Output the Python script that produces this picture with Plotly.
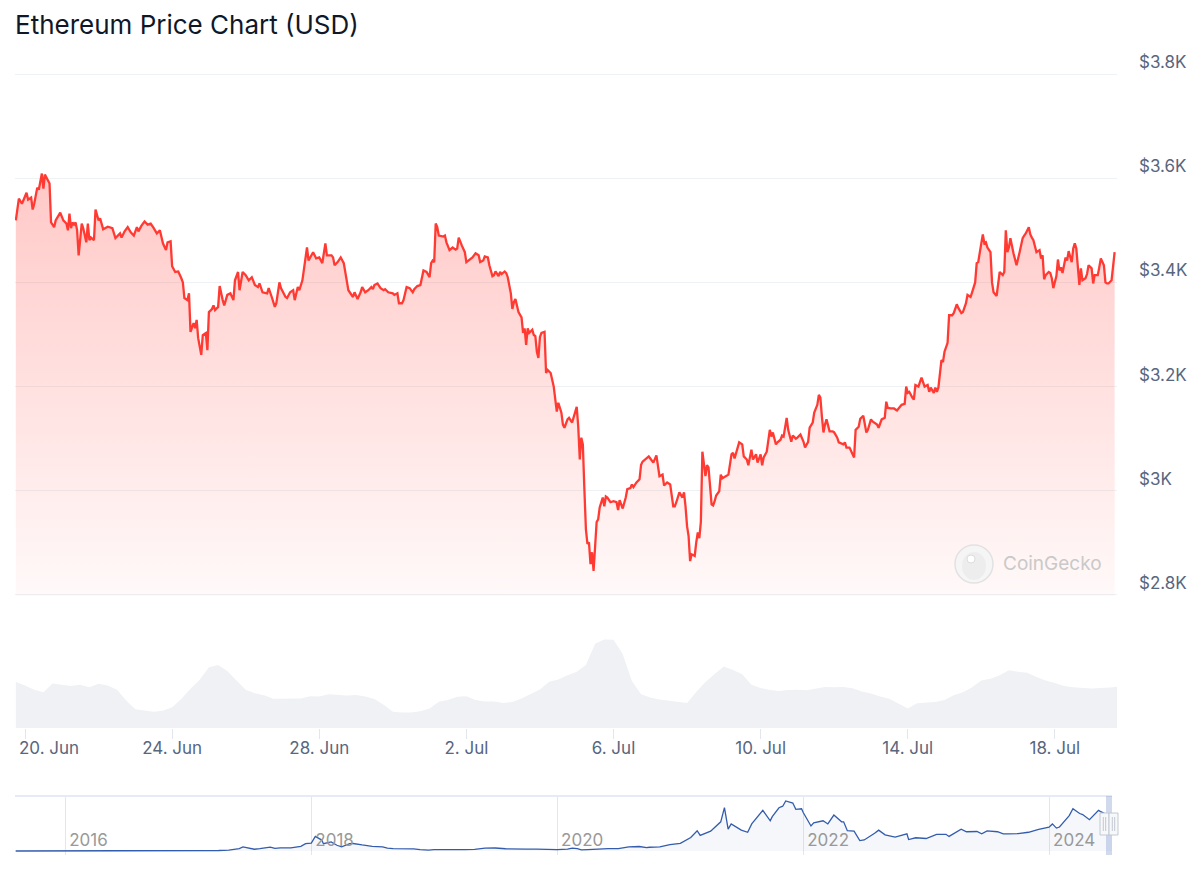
import pandas as pd
import plotly.graph_objects as go

# ---------------- data ----------------
title_text = "Ethereum Price Chart (USD)"

price_base = "2024-06-20 00:00"
# hours after price_base
price_hours = [
    -6, -4, -2, 1, 2, 4, 5, 6, 8, 9, 11, 12, 13, 16, 17, 19, 20, 23, 25, 27, 28, 29, 30, 31, 32, 33, 34, 35,
    37, 38, 40, 41, 42, 43, 45, 46, 48, 49, 51, 54, 57, 59, 62, 63, 65, 67, 69, 71, 73, 74, 76, 78, 80, 82,
    84, 86, 88, 90, 92, 93, 95, 96, 98, 100, 102, 103, 104, 106, 107, 108, 110, 111, 112, 113, 115, 116, 118,
    119, 120, 122, 123, 124, 126, 127, 129, 130, 132, 134, 136, 137, 139, 140, 142, 144, 146, 148, 150, 152,
    153, 155, 158, 159, 161, 163, 164, 166, 167, 170, 171, 173, 175, 176, 178, 179,
    181, 184, 185, 188, 190, 192, 194, 196, 197, 200, 201, 202, 204, 206, 208, 210, 211, 214, 215, 217, 219,
    220, 222, 224, 226, 227, 228, 230, 232, 234, 235, 237, 240, 241, 243, 244, 246, 247, 249, 251, 253, 254,
    256, 258, 259, 260, 262, 264, 265, 266, 267, 268, 269, 270, 273, 274, 275, 277, 279, 281, 282, 283, 285,
    287, 288, 290, 292, 294, 296, 297, 299, 300, 302, 303, 305, 306, 307, 309, 310, 311, 313, 314, 315, 317,
    318, 319, 320, 322, 324, 325, 326, 327, 328, 329, 331, 332, 333, 334, 335, 336, 337, 339, 340, 341, 343, 345,
    346, 347, 348, 350, 351, 352, 354, 355, 357, 358, 360, 361, 362, 363, 364, 365, 366, 367, 368, 369, 370,
    371, 372, 373, 374, 375, 377, 378, 379, 380, 382, 384, 386, 387, 388, 390, 392, 393, 395, 396, 397, 399,
    401, 402, 403, 405, 407, 408, 410, 412, 413, 414, 416, 417, 419, 421, 423, 424, 425, 427, 429, 430, 431,
    432, 433, 434, 435, 437, 438, 439, 440, 441, 442, 443, 444, 445, 446, 448, 449, 450, 451, 453, 454, 455,
    457, 459, 461, 462, 463, 465, 466, 468, 469, 471, 472, 474, 475, 477, 478, 480, 481, 482, 484, 486, 487,
    488, 490, 491, 493, 494, 495, 497, 498, 500, 501, 503, 504, 506, 508, 509, 511, 512, 514, 515, 517, 518,
    519, 520, 521, 522, 523, 525, 527, 528, 530, 531,
    534, 535, 536, 538, 540, 541, 542, 544, 545, 547, 549, 550, 552, 553, 556, 557, 559, 561, 562, 563, 565,
    567, 569, 570, 572, 574, 575, 576, 577, 579, 580, 581, 583, 584, 585, 587, 589, 590, 591, 593, 594, 595,
    596, 598, 599, 600, 602, 603, 605, 606, 608, 609, 611, 612, 614, 615, 617, 618, 619, 620, 621, 622, 624,
    625, 626, 627, 628, 630, 631, 632, 634, 635, 636, 638, 639, 640, 641, 642, 643, 645, 646, 647, 649, 651,
    652, 653, 655, 656, 657, 658, 660, 662, 663, 664, 665, 666, 668, 669, 670, 671, 673, 674, 675, 676, 677,
    679, 680, 681, 683, 684, 685, 686, 688, 689, 690, 692, 693, 694, 696, 697, 698, 700, 701, 702, 704, 705,
    706, 707, 709, 710, 711,
]
price_usd = [
    3519, 3561, 3551, 3572, 3559, 3563, 3540, 3551, 3582, 3578, 3609, 3580, 3607, 3590, 3515, 3506, 3519, 3534,
    3519, 3513, 3500, 3532, 3504, 3515, 3511, 3515, 3500, 3452,
    3513, 3504, 3477, 3513, 3481, 3486, 3481, 3540, 3519, 3523, 3502, 3507, 3504, 3485, 3494, 3486, 3498, 3506,
    3496, 3490, 3506, 3498, 3509, 3517, 3511, 3513,
    3504, 3494, 3500, 3475, 3462, 3477, 3479, 3431, 3420, 3421, 3408, 3400, 3370, 3366, 3379, 3305, 3322, 3312,
    3328, 3293, 3261, 3299, 3303,
    3270, 3343, 3349, 3356, 3347, 3353, 3393, 3366, 3356, 3376, 3379, 3366, 3404, 3420, 3385, 3420, 3414, 3404,
    3410, 3395, 3391,
    3398, 3381, 3379, 3389, 3372, 3353, 3360, 3400, 3389, 3372, 3370, 3381, 3385, 3366, 3391, 3385,
    3404, 3467, 3442, 3458, 3446, 3448, 3437, 3475, 3452, 3452, 3448, 3433, 3439, 3448, 3437, 3404, 3385, 3372,
    3381, 3368, 3381,
    3391, 3381, 3385, 3391, 3387, 3395, 3398, 3389, 3385, 3387, 3381, 3379, 3376, 3379, 3360, 3360, 3366, 3391,
    3389, 3381, 3387,
    3393, 3395, 3410, 3423, 3420, 3410, 3437, 3442, 3439, 3513, 3506, 3490, 3488, 3490, 3477, 3462, 3467, 3463,
    3465, 3486, 3471,
    3458, 3439, 3444, 3448, 3456, 3452, 3439, 3442, 3450, 3448, 3433, 3412, 3414, 3421, 3412, 3420, 3416, 3421,
    3418, 3410, 3379,
    3349, 3362, 3368, 3343, 3333, 3303, 3312, 3280, 3312, 3303, 3309, 3299, 3297, 3267, 3255, 3295, 3303, 3305,
    3226, 3232, 3226, 3200,
    3171, 3152, 3169, 3150, 3127, 3121, 3137, 3140, 3131, 3142, 3161, 3123, 3060, 3102, 3089, 3003, 2926, 2898,
    2901, 2859, 2882,
    2846, 2888, 2940, 2945, 2968, 2987, 2970, 2989, 2987, 2978, 2980, 2978, 2963, 2982, 2966, 2987, 3003, 3005,
    3012, 3007, 3016,
    3022, 3050, 3056, 3062, 3066, 3062, 3054, 3068, 3047, 3028, 3031, 3010, 3016, 3012, 2970, 2970, 2978, 2997,
    2987, 2997, 2970,
    2932, 2913, 2865, 2878, 2875, 2901, 2920, 2909, 2940, 3075, 3050, 3028, 3049, 3045, 2974, 2972, 2980, 2991,
    2999, 3031, 3024,
    3028, 3031, 3070, 3073, 3062, 3085, 3093, 3089, 3066, 3060, 3049, 3079, 3060, 3070, 3054, 3070, 3049, 3064,
    3075, 3117, 3104,
    3112, 3089, 3093, 3098, 3106, 3104, 3140, 3117, 3094, 3106, 3100, 3102, 3108, 3094, 3083, 3094, 3121, 3131,
    3150, 3165, 3184,
    3179, 3142, 3112, 3127, 3137, 3114, 3114, 3112, 3102, 3093,
    3089, 3093, 3083, 3083, 3068, 3064, 3117, 3123, 3138, 3144, 3112, 3117, 3137, 3133, 3127, 3121, 3137, 3140,
    3171, 3159, 3158,
    3158, 3154, 3158, 3165, 3167, 3200, 3188, 3190, 3179, 3175, 3203, 3200, 3209, 3217, 3200, 3203, 3190, 3198,
    3188, 3198, 3190,
    3198, 3251, 3247, 3267, 3284, 3337, 3337, 3341, 3358, 3351, 3341, 3343, 3360, 3376, 3372, 3381, 3391, 3400,
    3437, 3439, 3475,
    3492, 3475, 3477, 3467, 3458, 3400, 3381, 3374, 3400, 3420, 3414, 3420, 3500, 3458, 3467, 3485, 3456, 3446,
    3433, 3458, 3485,
    3490, 3494, 3506, 3492, 3486, 3481, 3458, 3462, 3446, 3452, 3406, 3414, 3420, 3418, 3408, 3389, 3412, 3444,
    3423, 3429, 3418,
    3448, 3442, 3460, 3439, 3465, 3475, 3465, 3395, 3427, 3404, 3408, 3416, 3433, 3427, 3398, 3414, 3414, 3429,
    3446, 3433, 3400,
    3398, 3398, 3404, 3427, 3458,
]

volume_start = "2024-06-19 18:00"
volume_step = "6h"
volume_busd = [
    14.9, 13.8, 12.4, 11.6, 14.4, 14.1, 13.6, 14.0, 13.2, 14.3, 13.8, 12.4, 8.9, 6.1, 5.6, 5.3, 5.6, 6.7, 9.4,
    12.7, 15.6, 19.7, 20.4, 18.5, 15.4, 12.4, 11.3, 10.6, 9.5, 9.6, 9.7, 9.6, 10.3, 10.2, 10.9, 10.6, 10.5,
    10.7, 10.2, 9.4, 7.5, 5.3, 5.0, 5.0, 5.4, 6.3, 8.5, 9.1, 10.1, 10.3, 9.1, 8.6, 8.6, 8.1, 8.4, 9.6, 11.1,
    12.5, 15.0, 15.7, 17.1, 18.2, 20.4, 27.3, 28.7, 28.6, 24.0, 15.2, 10.9, 9.9, 9.2, 8.9, 8.6, 8.1, 11.7,
    14.9, 17.5, 19.9, 18.8, 17.4, 14.0, 13.0, 12.3, 12.0, 12.3, 12.4, 12.2, 12.7, 13.3, 13.2, 13.3, 12.9,
    11.8, 11.2, 10.2, 9.5, 7.9, 6.3, 8.0, 8.3, 8.4, 9.1, 10.6, 11.6, 13.2, 15.4, 16.0, 17.1, 18.7, 18.2,
    17.9, 16.5, 15.4, 14.6, 13.6, 13.2, 13.0, 12.8, 13.0, 13.1, 13.5,
]

nav_dates = [
    "2015-08-07", "2015-09-01", "2015-10-01", "2015-11-01", "2015-12-01",
    "2016-01-01", "2016-02-01", "2016-03-01", "2016-04-01", "2016-05-01", "2016-06-01", "2016-07-01",
    "2016-08-01", "2016-09-01", "2016-10-01", "2016-11-01", "2016-12-01",
    "2017-01-01", "2017-02-01", "2017-03-01", "2017-04-01", "2017-05-01", "2017-06-01", "2017-06-12",
    "2017-07-01", "2017-07-16", "2017-08-01", "2017-09-01", "2017-09-15", "2017-10-01", "2017-11-01",
    "2017-12-01", "2017-12-15",
    "2018-01-01", "2018-01-13", "2018-02-01", "2018-02-06", "2018-03-01", "2018-03-18", "2018-04-01",
    "2018-04-25", "2018-05-05", "2018-06-01", "2018-07-01", "2018-08-01", "2018-08-15", "2018-09-01",
    "2018-10-01", "2018-11-01", "2018-11-20", "2018-12-15",
    "2019-01-01", "2019-02-01", "2019-03-01", "2019-04-01", "2019-05-01", "2019-06-01", "2019-06-26",
    "2019-07-01", "2019-08-01", "2019-09-01", "2019-10-01", "2019-11-01", "2019-12-01",
    "2020-01-01", "2020-02-01", "2020-02-15", "2020-03-01", "2020-03-13", "2020-04-01", "2020-05-01",
    "2020-06-01", "2020-07-01", "2020-08-01", "2020-09-01", "2020-09-23", "2020-10-01", "2020-11-01",
    "2020-12-01",
    "2021-01-01", "2021-02-01", "2021-02-20", "2021-03-01", "2021-04-01", "2021-05-01", "2021-05-12",
    "2021-05-23", "2021-06-01", "2021-07-01", "2021-07-20", "2021-08-01", "2021-09-03", "2021-09-25",
    "2021-10-01", "2021-10-21", "2021-11-01", "2021-11-10", "2021-12-01", "2021-12-10", "2021-12-27",
    "2022-01-01", "2022-01-24", "2022-02-01", "2022-03-01", "2022-03-15", "2022-04-02", "2022-04-25",
    "2022-05-01", "2022-05-12", "2022-06-01", "2022-06-18", "2022-07-01", "2022-08-01", "2022-08-13",
    "2022-09-01", "2022-10-01", "2022-11-05", "2022-11-10", "2022-12-01", "2022-12-30",
    "2023-01-01", "2023-02-01", "2023-03-01", "2023-03-10", "2023-04-01", "2023-04-15", "2023-05-01",
    "2023-06-01", "2023-06-15", "2023-07-01", "2023-08-01", "2023-08-18", "2023-09-01", "2023-10-01",
    "2023-11-01", "2023-12-01",
    "2024-01-01", "2024-01-11", "2024-01-23", "2024-02-01", "2024-03-01", "2024-03-12", "2024-04-01",
    "2024-04-10", "2024-04-30", "2024-05-27", "2024-06-01", "2024-06-20", "2024-07-05", "2024-07-19",
]
nav_usd = [
    1.2, 0.9, 0.6, 0.9, 0.9,
    0.95, 2.5, 6, 11, 9, 14, 12, 11, 12, 13, 11, 8,
    8, 11, 16, 50, 80, 230, 390, 290, 170, 220, 380, 250, 300, 300, 450, 700,
    750, 1400, 1050, 700, 870, 550, 400, 700, 720, 580, 450, 400, 280, 230, 220, 200, 130, 85,
    140, 110, 135, 140, 160, 270, 320, 290, 215, 170, 180, 180, 150,
    130, 180, 280, 220, 110, 135, 210, 230, 230, 390, 430, 320, 360, 390, 610,
    740, 1300, 1950, 1500, 1900, 2800, 4170, 2100, 2600, 2000, 1800, 2600, 3900, 2900, 3300, 4150, 4300,
    4800, 4600, 4000, 4050,
    3700, 2400, 2700, 2900, 2600, 3450, 2800, 2800, 1950, 1900, 1000, 1060, 1700, 2000, 1550, 1330, 1650,
    1100, 1270, 1200,
    1200, 1600, 1600, 1400, 1800, 2100, 1850, 1870, 1650, 1930, 1850, 1650, 1650, 1670, 1800, 2080,
    2280, 2600, 2200, 2300, 3400, 4050, 3600, 3500, 3000, 3900, 3800, 3500, 2900, 3450,
]

x_tick_dates = ["2024-06-20", "2024-06-24", "2024-06-28", "2024-07-02",
                "2024-07-06", "2024-07-10", "2024-07-14", "2024-07-18"]
x_tick_labels = ["20. Jun", "24. Jun", "28. Jun", "2. Jul", "6. Jul", "10. Jul", "14. Jul", "18. Jul"]
y_tick_values = [2800, 3000, 3200, 3400, 3600, 3800]
y_tick_labels = ["$2.8K", "$3K", "$3.2K", "$3.4K", "$3.6K", "$3.8K"]
nav_tick_dates = ["2016-01-01", "2018-01-01", "2020-01-01", "2022-01-01", "2024-01-01"]
nav_tick_labels = ["2016", "2018", "2020", "2022", "2024"]

# ---------------- layout constants ----------------
W, H = 1200, 876
ML, MR = 15, 83
PW = W - ML - MR
FONT = "Inter"
LABEL = "#58667e"
RED = "#ff3a33"


def py(p):  # pixel row -> paper fraction (t=b=0)
    return (H - p) / H


def px(p):  # pixel column -> paper fraction
    return (p - ML) / PW


price_times = pd.Timestamp(price_base) + pd.to_timedelta(price_hours, unit="h")
vol_times = pd.date_range(volume_start, periods=len(volume_busd), freq=volume_step)
y_min, y_max = y_tick_values[0], y_tick_values[-1]
pad = 2  # small padding so the edge gridlines are drawn

fig = go.Figure()

# baseline for gradient fill (axis floor)
fig.add_trace(go.Scatter(x=price_times, y=[y_min - pad] * len(price_times), mode="lines",
                         line=dict(width=0), hoverinfo="skip", showlegend=False,
                         xaxis="x", yaxis="y"))
fig.add_trace(go.Scatter(
    x=price_times, y=price_usd, mode="lines", line=dict(color=RED, width=2.3),
    fill="tonexty",
    fillgradient=dict(type="vertical",
                      colorscale=[[0, "rgba(255,58,51,0.03)"], [1, "rgba(255,58,51,0.28)"]],
                      start=y_min, stop=3620),
    showlegend=False, xaxis="x", yaxis="y"))

fig.add_trace(go.Scatter(
    x=vol_times, y=volume_busd, mode="lines", line=dict(width=0, color="#eff1f5"),
    fill="tozeroy", fillcolor="#eff1f5", showlegend=False, xaxis="x", yaxis="y2"))

fig.add_trace(go.Scatter(
    x=pd.to_datetime(nav_dates), y=nav_usd, mode="lines",
    line=dict(color="#335cad", width=1.3), fill="tozeroy", fillcolor="rgba(51,92,173,0.05)",
    showlegend=False, xaxis="x3", yaxis="y3"))

# first date label is justified to stay inside the chart (as in the reference)
shown_x_labels = [""] + x_tick_labels[1:]

fig.update_layout(
    template="none",
    width=W, height=H, autosize=False,
    margin=dict(l=ML, r=MR, t=0, b=0, pad=0),
    paper_bgcolor="white", plot_bgcolor="white",
    font=dict(family=FONT, color=LABEL),
    title=dict(text=title_text, x=15 / W, xanchor="left", xref="container",
               y=1 - 25 / H, yref="container", yanchor="middle",
               font=dict(family=FONT, size=26, color="#101828")),
    xaxis=dict(type="date", domain=[0, 1], anchor="y2", automargin=False,
               range=["2024-06-19 17:28", "2024-07-19 16:33"],
               tickvals=x_tick_dates, ticktext=shown_x_labels,
               ticks="outside", ticklen=10, tickcolor="#e3e7ec", tickwidth=1,
               ticklabelstandoff=-5,
               showgrid=False, zeroline=False, showline=False,
               tickfont=dict(family=FONT, size=17, color=LABEL)),
    yaxis=dict(domain=[py(596), py(73)], range=[y_min - pad, y_max + pad], side="right", anchor="x",
               automargin=False,
               tickvals=y_tick_values, ticktext=y_tick_labels,
               ticks="", ticklabelstandoff=21,
               ticklabelposition="outside top",
               showgrid=True, gridcolor="#eff2f5", gridwidth=1,
               zeroline=False, showline=False,
               tickfont=dict(family=FONT, size=17, color=LABEL)),
    yaxis2=dict(domain=[py(728), py(620)], range=[0, 35], anchor="x", visible=False,
                automargin=False),
    xaxis3=dict(type="date", domain=[0, px(1112)], anchor="y3", automargin=False,
                range=["2015-08-05", "2024-07-06"],
                tickvals=nav_tick_dates, ticktext=nav_tick_labels,
                ticklabelposition="inside right", ticks="", ticklabelshift=4,
                showgrid=True, gridcolor="#e6e6e6", zeroline=False, showline=False,
                tickfont=dict(family=FONT, size=17, color="#999999")),
    yaxis3=dict(domain=[py(855), py(797)], range=[-384, 5184], anchor="x3", visible=False,
                automargin=False),
    hovermode=False,
)

fig.add_annotation(text=x_tick_labels[0], xref="x", x=x_tick_dates[0], yref="paper", y=py(748),
                   xanchor="left", yanchor="middle", xshift=-8, showarrow=False,
                   font=dict(family=FONT, size=17, color=LABEL))

shapes = [
    # navigator outline
    dict(type="line", xref="paper", yref="paper", x0=0, x1=px(1112), y0=py(796), y1=py(796),
         line=dict(color="#ccd6eb", width=1.2)),
    # navigator selected range mask
    dict(type="rect", xref="paper", yref="paper", x0=px(1106), x1=px(1112), y0=py(855), y1=py(796),
         fillcolor="rgba(102,133,194,0.3)", line=dict(width=0)),
]
for left, right in [(1100, 1109), (1109, 1118)]:
    shapes.append(dict(type="rect", xref="paper", yref="paper",
                       x0=px(left), x1=px(right), y0=py(835), y1=py(813),
                       fillcolor="#f7f8fa", line=dict(color="#c2c8d2", width=1)))
    for gx in (left + 3.3, left + 5.7):
        shapes.append(dict(type="line", xref="paper", yref="paper",
                           x0=px(gx), x1=px(gx), y0=py(831), y1=py(817),
                           line=dict(color="#c2c8d2", width=1)))
# watermark logo
shapes.append(dict(type="circle", xref="paper", yref="paper",
                   x0=px(955), x1=px(993), y0=py(583), y1=py(545),
                   fillcolor="rgba(245,245,245,0.9)", line=dict(color="#e2e2e2", width=1.5)))
shapes.append(dict(type="circle", xref="paper", yref="paper",
                   x0=px(962), x1=px(986), y0=py(580), y1=py(552),
                   fillcolor="rgba(236,236,236,0.9)", line=dict(width=0)))
shapes.append(dict(type="circle", xref="paper", yref="paper",
                   x0=px(967), x1=px(975), y0=py(563), y1=py(555),
                   fillcolor="white", line=dict(color="#dddddd", width=1)))
fig.update_layout(shapes=shapes)

fig.add_annotation(text="CoinGecko", xref="paper", yref="paper", x=px(1001), y=py(563),
                   xanchor="left", yanchor="middle", showarrow=False,
                   font=dict(family=FONT, size=19, color="#c9c9c9"))

fig.write_html("out.html", config={"displayModeBar": False},
               post_script="document.body.style.margin='0';document.body.style.overflow='hidden';")
